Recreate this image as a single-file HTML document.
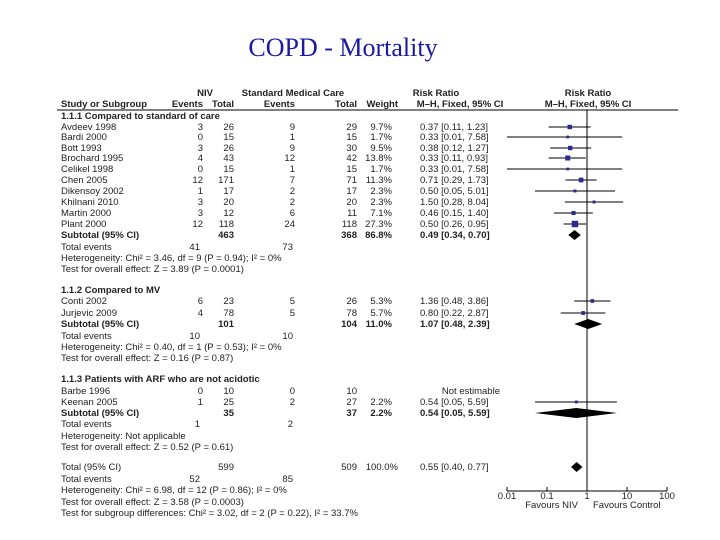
<!DOCTYPE html>
<html><head><meta charset="utf-8"><style>
body{margin:0;background:#fff;width:720px;height:540px;overflow:hidden}
svg{display:block}
text{font-family:"Liberation Sans",sans-serif;font-size:9.5px;fill:#222}
.b{font-weight:bold}
</style></head><body>
<svg id="c" width="720" height="540">
<text x="343" y="56" text-anchor="middle" style="font-family:'Liberation Serif',serif;font-size:26px;fill:#1a1aa0">COPD - Mortality</text>
<g id="g"></g>
</svg>
<script>
const studies=["Avdeev 1998","Bardi 2000","Bott 1993","Brochard 1995","Celikel 1998","Chen 2005","Dikensoy 2002","Khilnani 2010","Martin 2000","Plant 2000","Conti 2002","Jurjevic 2009","Barbe 1996","Keenan 2005"];
const rowY=[127,137,148,158,169,180,191,202,213,224,301,313,391,402];
const nivEvents=[3,0,3,4,0,12,1,3,3,12,6,4,0,1];
const nivTotal=[26,15,26,43,15,171,17,20,12,118,23,78,10,25];
const smcEvents=[9,1,9,12,1,7,2,2,6,24,5,5,0,2];
const smcTotal=[29,15,30,42,15,71,17,20,11,118,26,78,10,27];
const weights=[9.7,1.7,9.5,13.8,1.7,11.3,2.3,2.3,7.1,27.3,5.3,5.7,null,2.2];
const rr=[0.37,0.33,0.38,0.33,0.33,0.71,0.50,1.50,0.46,0.50,1.36,0.80,null,0.54];
const lo=[0.11,0.01,0.12,0.11,0.01,0.29,0.05,0.28,0.15,0.26,0.48,0.22,null,0.05];
const hi=[1.23,7.58,1.27,0.93,7.58,1.73,5.01,8.04,1.40,0.95,3.86,2.87,null,5.59];
const subLabels=["Subtotal (95% CI)","Subtotal (95% CI)","Subtotal (95% CI)","Total (95% CI)"];
const subY=[235,324,413,467];
const subNivTotal=[463,101,35,599];
const subSmcTotal=[368,104,37,509];
const subWeight=["86.8%","11.0%","2.2%","100.0%"];
const subRR=[0.49,1.07,0.54,0.55];
const subLo=[0.34,0.48,0.05,0.40];
const subHi=[0.70,2.39,5.59,0.77];
const axisTicks=[0.01,0.1,1,10,100];
const tickLabels=["0.01","0.1","1","10","100"];
const NS="http://www.w3.org/2000/svg",g=document.getElementById('g');
const X=v=>587+40*Math.log10(v);
function el(t,a,txt){const e=document.createElementNS(NS,t);for(const k in a)e.setAttribute(k,a[k]);if(txt!=null)e.textContent=txt;g.appendChild(e);return e;}
function tx(x,y,s,anchor,cls,name){const e=el('text',{x:x,y:y,'text-anchor':anchor||'start',class:cls||''},s);

return e;}
tx(205,96,"NIV","middle","b","header-niv");
tx(293,96,"Standard Medical Care","middle","b","header-smc");
tx(436,96,"Risk Ratio","middle","b","header-rr");
tx(588,96,"Risk Ratio","middle","b","header-rr-plot");
tx(61,107,"Study or Subgroup","start","b","header-study");
tx(203,107,"Events","end","b","header-niv-events");
tx(234,107,"Total","end","b","header-niv-total");
tx(295,107,"Events","end","b","header-smc-events");
tx(357,107,"Total","end","b","header-smc-total");
tx(398,107,"Weight","end","b","header-weight");
tx(460,107,"M–H, Fixed, 95% CI","middle","b","header-method");
tx(588,107,"M–H, Fixed, 95% CI","middle","b","header-method-plot");
let ln=el('line',{x1:57,y1:110,x2:678,y2:110,stroke:'#000','stroke-width':1});

tx(61,119,"1.1.1 Compared to standard of care","start","b","group-1-title");
tx(61,293,"1.1.2 Compared to MV","start","b","group-2-title");
tx(61,382,"1.1.3 Patients with ARF who are not acidotic","start","b","group-3-title");
ln=el('line',{x1:X(1),y1:110,x2:X(1),y2:491,stroke:'#000','stroke-width':1});

ln=el('line',{x1:X(0.01),y1:491,x2:X(100),y2:491,stroke:'#000','stroke-width':1});

axisTicks.forEach((t,i)=>{const l=el('line',{x1:X(t),y1:487,x2:X(t),y2:491,stroke:'#000'});

tx(X(t),499,tickLabels[i],"middle","","x-tick-label");});
tx(578,508,"Favours NIV","end","","favours-niv-label");
tx(593,508,"Favours Control","start","","favours-control-label");
const f=v=>v.toFixed(2);
studies.forEach((s,i)=>{const y=rowY[i]+3;
tx(61,y,s,"start","","study-name");
tx(203,y,nivEvents[i],"end","","niv-events");
tx(234,y,nivTotal[i],"end","","niv-total");
tx(295,y,smcEvents[i],"end","","smc-events");
tx(357,y,smcTotal[i],"end","","smc-total");
if(rr[i]==null){tx(500,y,"Not estimable","end","","risk-ratio-text");return;}
tx(392,y,weights[i].toFixed(1)+"%","end","","weight");
tx(420,y,f(rr[i])+" ["+f(lo[i])+", "+f(hi[i])+"]","start","","risk-ratio-text");
const c=el('line',{x1:X(lo[i]),y1:rowY[i],x2:X(hi[i]),y2:rowY[i],stroke:'#000','stroke-width':1});

const sz=1.5+Math.sqrt(weights[i])*0.95;
const r=el('rect',{x:X(rr[i])-sz/2,y:rowY[i]-sz/2,width:sz,height:sz,fill:'#2b2b8c'});

});
subLabels.forEach((s,i)=>{const y=subY[i]+3;
tx(61,y,s,"start",i<3?"b":"","subtotal-label");
tx(234,y,subNivTotal[i],"end",i<3?"b":"","subtotal-niv-total");
tx(357,y,subSmcTotal[i],"end",i<3?"b":"","subtotal-smc-total");
tx(i<3?392:398,y,subWeight[i],"end",i<3?"b":"","subtotal-weight");
tx(420,y,f(subRR[i])+" ["+f(subLo[i])+", "+f(subHi[i])+"]","start",i<3?"b":"","subtotal-rr-text");
const yy=subY[i];
const d=el('polygon',{points:`${X(subLo[i])},${yy} ${X(subRR[i])},${yy-5} ${X(subHi[i])},${yy} ${X(subRR[i])},${yy+5}`,fill:'#000'});

});
const extra=[[61,250,"Total events"],[200,250,"41"],[293,250,"73"],
[61,261,"Heterogeneity: Chi² = 3.46, df = 9 (P = 0.94); I² = 0%"],[61,272,"Test for overall effect: Z = 3.89 (P = 0.0001)"],
[61,339,"Total events"],[200,339,"10"],[293,339,"10"],
[61,350,"Heterogeneity: Chi² = 0.40, df = 1 (P = 0.53); I² = 0%"],[61,361,"Test for overall effect: Z = 0.16 (P = 0.87)"],
[61,427,"Total events"],[200,427,"1"],[293,427,"2"],
[61,439,"Heterogeneity: Not applicable"],[61,450,"Test for overall effect: Z = 0.52 (P = 0.61)"],
[61,482,"Total events"],[200,482,"52"],[293,482,"85"],
[61,493,"Heterogeneity: Chi² = 6.98, df = 12 (P = 0.86); I² = 0%"],[61,505,"Test for overall effect: Z = 3.58 (P = 0.0003)"],
[61,516,"Test for subgroup differences: Chi² = 3.02, df = 2 (P = 0.22), I² = 33.7%"]];
extra.forEach(e=>tx(e[0],e[1],e[2],e[0]>100?"end":"start","","summary-stat-text"));
</script>
</body></html>
